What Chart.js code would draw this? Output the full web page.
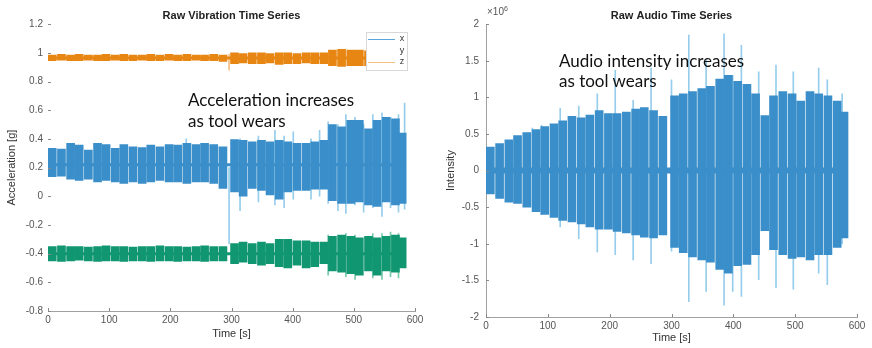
<!DOCTYPE html>
<html>
<head>
<meta charset="utf-8">
<script src="https://cdn.jsdelivr.net/npm/chart.js@4.4.1/dist/chart.umd.min.js"></script>
<style>
  body { margin: 0; background: #fff; }
  #wrap { position: relative; width: 872px; height: 348px; overflow: hidden; }
  canvas { position: absolute; top: 0; }
  #vib { left: 0; }
  #aud { left: 436px; }
  .note { position: absolute; font-family: Lato, sans-serif; font-size: 17px; color: #111; line-height: 21px; white-space: nowrap; }
  #exp { position: absolute; left: 487px; top: 5px; font-family: "Liberation Sans", sans-serif; font-size: 10px; color: #555; }
  #exp sup { font-size: 7px; }
</style>
</head>
<body>
<div id="wrap">
  <canvas id="vib" width="436" height="348"></canvas>
  <canvas id="aud" width="436" height="348"></canvas>
  <div class="note" style="left:188px; top:89px;">Acceleration increases<br>as tool wears</div>
  <div class="note" style="left:559px; top:51px; line-height:20px;">Audio intensity increases<br>as tool wears</div>
  <div id="exp">&times;10<sup>6</sup></div>
</div>
<script>
// burst centres [s], shared by every channel
const burstTimes = [7, 22, 37, 51, 66, 81, 95, 110, 124, 139, 154, 168, 183, 198, 212, 227, 242, 256, 271, 286,
  305, 319, 334, 349, 363, 378, 392, 407, 422, 436, 451, 465, 480, 495, 509, 524, 538, 553, 568, 579];
const signalSpan = [0, 583];
const timeTicks = [0, 100, 200, 300, 400, 500, 600];

// vibration envelopes [g]
const vibXHigh = [0.334, 0.33, 0.369, 0.357, 0.322, 0.369, 0.36, 0.334, 0.36, 0.345, 0.34, 0.357, 0.345, 0.36, 0.357, 0.369, 0.36, 0.369, 0.36, 0.345,
  0.396, 0.39, 0.38, 0.39, 0.38, 0.39, 0.38, 0.37, 0.37, 0.38, 0.39, 0.50, 0.485, 0.53, 0.53, 0.47, 0.53, 0.55, 0.54, 0.44];
const vibXLow = [0.136, 0.14, 0.12, 0.11, 0.12, 0.10, 0.11, 0.10, 0.09, 0.10, 0.09, 0.10, 0.11, 0.10, 0.10, 0.09, 0.10, 0.10, 0.09, 0.055,
  0.03, 0.0, 0.055, 0.04, 0.01, -0.02, 0.03, 0.04, 0.04, 0.05, 0.05, -0.03, -0.05, -0.05, -0.04, -0.06, -0.07, -0.04, -0.06, -0.05];
const vibYHigh = [0.985, 0.99, 0.985, 0.99, 0.985, 0.985, 0.99, 0.985, 0.99, 0.985, 0.985, 0.99, 0.985, 0.99, 0.985, 0.99, 0.985, 0.985, 0.99, 0.985,
  1.0, 0.995, 1.0, 1.0, 0.995, 1.0, 1.0, 0.995, 1.0, 1.0, 1.0, 1.02, 1.025, 1.02, 1.02, 1.015, 1.02, 1.02, 1.02, 1.02];
const vibYLow = [0.945, 0.95, 0.945, 0.945, 0.95, 0.945, 0.945, 0.95, 0.945, 0.945, 0.95, 0.945, 0.945, 0.95, 0.945, 0.945, 0.95, 0.945, 0.945, 0.94,
  0.925, 0.93, 0.925, 0.925, 0.93, 0.92, 0.925, 0.925, 0.93, 0.925, 0.925, 0.91, 0.905, 0.91, 0.91, 0.91, 0.905, 0.91, 0.91, 0.91];
const vibZHigh = [-0.35, -0.345, -0.35, -0.35, -0.355, -0.35, -0.345, -0.35, -0.35, -0.355, -0.35, -0.35, -0.345, -0.35, -0.35, -0.355, -0.35, -0.345, -0.35, -0.35,
  -0.33, -0.32, -0.33, -0.32, -0.33, -0.30, -0.30, -0.31, -0.31, -0.32, -0.32, -0.28, -0.27, -0.28, -0.29, -0.28, -0.29, -0.28, -0.27, -0.29];
const vibZLow = [-0.45, -0.455, -0.45, -0.445, -0.45, -0.455, -0.45, -0.45, -0.455, -0.45, -0.45, -0.455, -0.45, -0.45, -0.455, -0.45, -0.45, -0.455, -0.45, -0.45,
  -0.47, -0.46, -0.47, -0.48, -0.47, -0.49, -0.50, -0.48, -0.50, -0.49, -0.47, -0.52, -0.53, -0.54, -0.55, -0.52, -0.55, -0.52, -0.53, -0.50];
const vibBaseX = 0.22, vibBaseY = 0.965, vibBaseZ = -0.40;

// isolated peaks between bursts
const vibXSpikeTimes = [226, 296, 314, 344, 371, 386, 401, 430, 444, 458, 474, 487, 502, 516, 531, 546, 560, 573, 583];
const vibXSpikeLow = [0.10, -0.33, -0.10, -0.04, -0.06, -0.08, -0.02, -0.02, 0.0, -0.05, -0.10, -0.12, -0.06, -0.11, -0.08, -0.14, -0.08, -0.11, -0.09];
const vibXSpikeHigh = [0.40, 0.20, 0.40, 0.42, 0.46, 0.42, 0.45, 0.40, 0.46, 0.52, 0.50, 0.57, 0.55, 0.50, 0.57, 0.58, 0.55, 0.57, 0.65];
const vibYSpikeTimes = [296];
const vibYSpikeLow = [0.88];
const vibYSpikeHigh = [0.99];
const vibZSpikeTimes = [458, 487, 502, 531, 546, 560, 573];
const vibZSpikeLow = [-0.55, -0.56, -0.58, -0.57, -0.58, -0.56, -0.57];
const vibZSpikeHigh = [-0.27, -0.26, -0.27, -0.26, -0.26, -0.25, -0.26];

// audio envelopes [x1e6]
const audHigh = [0.32, 0.37, 0.42, 0.48, 0.52, 0.56, 0.60, 0.64, 0.68, 0.74, 0.72, 0.76, 0.82, 0.78, 0.78, 0.80, 0.84, 0.86, 0.82, 0.74,
  1.02, 1.05, 1.08, 1.12, 1.15, 1.25, 1.30, 1.22, 1.18, 1.05, 0.75, 1.02, 1.08, 1.05, 0.95, 1.08, 1.05, 1.02, 0.95, 0.80];
const audLow = [-0.32, -0.38, -0.43, -0.45, -0.50, -0.56, -0.60, -0.64, -0.68, -0.70, -0.73, -0.77, -0.80, -0.80, -0.83, -0.85, -0.88, -0.91, -0.92, -0.88,
  -1.05, -1.12, -1.18, -1.22, -1.25, -1.35, -1.40, -1.30, -1.28, -1.15, -0.82, -1.08, -1.15, -1.20, -1.18, -1.22, -1.15, -1.15, -1.05, -0.92];
const audBase = 0;
const audSpikeTimes = [75, 90, 120, 150, 180, 209, 238, 267, 300, 328, 356, 385, 399, 413, 441, 469, 497, 538, 552, 576];
const audSpikeLow = [-0.50, -0.60, -0.77, -0.93, -1.11, -1.15, -1.22, -1.27, -1.10, -1.79, -1.65, -1.84, -1.65, -1.72, -1.49, -1.60, -1.62, -1.40, -1.56, -1.00];
const audSpikeHigh = [0.58, 0.62, 0.85, 0.88, 1.05, 1.37, 0.96, 1.40, 1.24, 1.85, 1.51, 1.87, 1.30, 1.71, 1.35, 1.44, 1.35, 1.40, 1.24, 1.05];

const BLUE = 'rgb(58,142,201)';
const BLUE_LIGHT = 'rgb(150,205,236)';
const ORANGE = 'rgb(232,134,20)';
const ORANGE_LIGHT = 'rgb(245,190,130)';
const GREEN = 'rgb(16,150,112)';
const GREEN_LIGHT = 'rgb(120,200,170)';

function bursts(low, high) {
  return burstTimes.map((t, i) => ({ x: t, y: [low[i], high[i]] }));
}
function spikes(times, low, high) {
  return times.map((t, i) => ({ x: t, y: [low[i], high[i]] }));
}
function baseline(v) {
  return signalSpan.map(t => ({ x: t, y: v }));
}
function fmt(v) {
  return String(Math.round(v * 10) / 10);
}

function burstSet(data, color, order) {
  return { type: 'bar', data: data, backgroundColor: color, borderWidth: 0, barThickness: 8, grouped: false, order: order };
}
function spikeSet(data, color, order) {
  return { type: 'bar', data: data, backgroundColor: color, borderWidth: 0, barThickness: 1, grouped: false, order: order };
}
function lineSet(data, color, width, order) {
  return { type: 'line', data: data, borderColor: color, borderWidth: width, pointRadius: 0, order: order };
}

// MATLAB style ticks pointing into the plot
const innerTicks = {
  id: 'innerTicks',
  afterDraw(chart) {
    const { ctx, chartArea: a, scales } = chart;
    ctx.save();
    ctx.strokeStyle = '#888';
    ctx.lineWidth = 1;
    scales.x.ticks.forEach(t => {
      const px = Math.round(scales.x.getPixelForValue(t.value)) + 0.5;
      ctx.beginPath(); ctx.moveTo(px, a.bottom); ctx.lineTo(px, a.bottom - 3); ctx.stroke();
    });
    scales.y.ticks.forEach(t => {
      const py = Math.round(scales.y.getPixelForValue(t.value)) + 0.5;
      ctx.beginPath(); ctx.moveTo(a.left, py); ctx.lineTo(a.left + 3, py); ctx.stroke();
    });
    ctx.restore();
  }
};

// small boxed legend in the top right corner of the vibration plot
const vibLegend = {
  id: 'vibLegend',
  afterDatasetsDraw(chart) {
    const ctx = chart.ctx;
    const bx = 366, by = 32, bw = 41, bh = 38;
    ctx.save();
    ctx.fillStyle = '#fff';
    ctx.fillRect(bx, by, bw, bh);
    ctx.strokeStyle = '#d8d8d8';
    ctx.lineWidth = 1;
    ctx.strokeRect(bx + 0.5, by + 0.5, bw, bh);
    const rows = [['x', 'rgb(90,165,220)'], ['y', null], ['z', ORANGE_LIGHT]];
    ctx.font = '9px "Liberation Sans", sans-serif';
    ctx.fillStyle = '#333';
    ctx.textAlign = 'center';
    ctx.textBaseline = 'middle';
    rows.forEach((r, i) => {
      const y = by + 7 + i * 11.5;
      if (r[1]) {
        ctx.strokeStyle = r[1];
        ctx.beginPath(); ctx.moveTo(bx + 2, y + 0.5); ctx.lineTo(bx + 29, y + 0.5); ctx.stroke();
      }
      ctx.fillText(r[0], bx + 36, y);
    });
    ctx.restore();
  }
};

function makeOptions(title, yTitle, yMin, yMax, yStep, sizes) {
  return {
    responsive: false,
    animation: false,
    layout: { padding: { left: 0, right: sizes.right, top: 0, bottom: 0 } },
    plugins: {
      legend: { display: false },
      tooltip: { enabled: false },
      title: {
        display: true, text: title, fullSize: false, color: '#222',
        font: { family: 'Liberation Sans', size: 11, weight: 'bold' },
        padding: { top: 9, bottom: 2 }
      }
    },
    scales: {
      x: {
        type: 'linear', min: 0, max: 600, offset: false,
        afterFit: s => { s.height = sizes.xHeight; },
        ticks: { stepSize: 100, color: '#555', font: { family: 'Liberation Sans', size: 10 }, padding: sizes.xPad, maxRotation: 0 },
        afterBuildTicks: s => { s.ticks = timeTicks.map(v => ({ value: v })); },
        grid: { display: false, drawTicks: false, offset: false },
        border: { display: true, color: '#a0a0a0' },
        title: { display: true, text: 'Time [s]', color: '#333', font: { family: 'Liberation Sans', size: 11 }, padding: { top: 0, bottom: sizes.xTitlePad } }
      },
      y: {
        type: 'linear', min: yMin, max: yMax,
        afterFit: s => { s.width = sizes.yWidth; },
        ticks: { stepSize: yStep, color: '#555', font: { family: 'Liberation Sans', size: 10 }, padding: sizes.yPad, callback: fmt },
        grid: { display: false, drawTicks: false },
        border: { display: sizes.yBorder, color: '#a0a0a0' },
        title: { display: true, text: yTitle, color: '#333', font: { family: 'Liberation Sans', size: 11 }, padding: { top: sizes.yTitlePad, bottom: 0 } }
      }
    }
  };
}

new Chart(document.getElementById('vib'), {
  data: {
    datasets: [
      burstSet(bursts(vibXLow, vibXHigh), BLUE, 2),
      burstSet(bursts(vibYLow, vibYHigh), ORANGE, 2),
      burstSet(bursts(vibZLow, vibZHigh), GREEN, 2),
      lineSet(baseline(vibBaseX), BLUE, 3, 1),
      lineSet(baseline(vibBaseY), ORANGE, 3, 1),
      lineSet(baseline(vibBaseZ), GREEN, 3, 1),
      spikeSet(spikes(vibXSpikeTimes, vibXSpikeLow, vibXSpikeHigh), BLUE_LIGHT, 3),
      spikeSet(spikes(vibYSpikeTimes, vibYSpikeLow, vibYSpikeHigh), ORANGE_LIGHT, 3),
      spikeSet(spikes(vibZSpikeTimes, vibZSpikeLow, vibZSpikeHigh), GREEN_LIGHT, 3)
    ]
  },
  options: makeOptions('Raw Vibration Time Series', 'Acceleration [g]', -0.8, 1.2, 0.2,
    { right: 21, xHeight: 37, xPad: 3, xTitlePad: 7, yWidth: 48, yPad: 5, yTitlePad: 5, yBorder: false }),
  plugins: [innerTicks, vibLegend]
});

new Chart(document.getElementById('aud'), {
  data: {
    datasets: [
      burstSet(bursts(audLow, audHigh), BLUE, 2),
      lineSet(baseline(audBase), BLUE, 6, 1),
      spikeSet(spikes(audSpikeTimes, audSpikeLow, audSpikeHigh), BLUE_LIGHT, 3)
    ]
  },
  options: makeOptions('Raw Audio Time Series', 'Intensity', -2, 2, 0.5,
    { right: 15, xHeight: 31, xPad: 3, xTitlePad: 3, yWidth: 50, yPad: 7, yTitlePad: 8, yBorder: true }),
  plugins: [innerTicks]
});
</script>
</body>
</html>
